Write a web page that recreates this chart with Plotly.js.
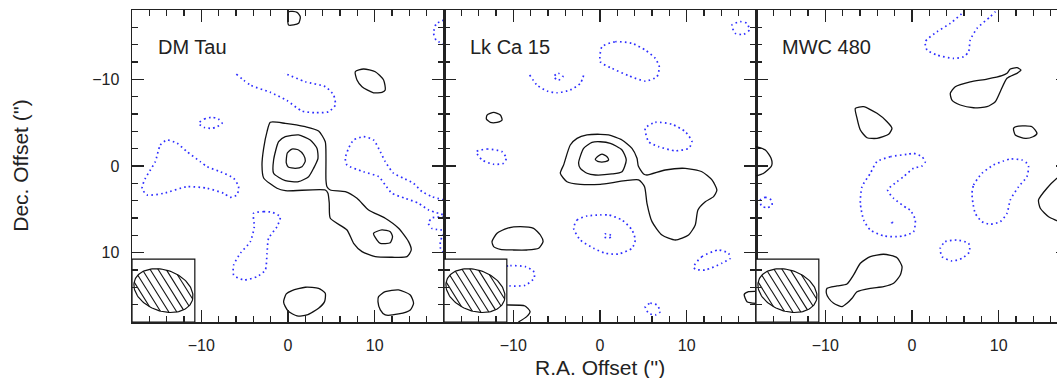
<!DOCTYPE html>
<html><head><meta charset="utf-8">
<script src="https://cdn.plot.ly/plotly-3.0.1.min.js"></script>
<style>html,body{margin:0;padding:0;overflow:hidden;background:#fff;width:1057px;height:378px}#chart{width:1068px;height:378px}</style>
</head><body><div id="chart"></div>
<script>
// ---- values (offsets in arcsec) ----
const sourceNames = ['DM Tau', 'Lk Ca 15', 'MWC 480'];
const tickValues = [-10, 0, 10];
const tickLabels = ['\u221210', '0', '10'];
const axisRange = [-18, 18];
const beamMajor = 7.04, beamMinor = 4.73, beamAngle = 20; // arcsec, arcsec, deg
const beamBoxSize = 7.25;

// DM Tau positive contours (closed)
const dmTauPos = [
  [-2.04,-5.04, -0.31,-4.92, 2.0,-4.53, 3.53,-4.04, 4.30,-2.80, 4.38,-0.89, 4.38,1.61, 4.50,2.39, 4.88,2.77, 6.61,2.96, 7.96,3.73, 9.30,5.07, 11.22,6.03, 12.76,7.19, 13.91,8.73, 14.22,9.69, 13.73,10.46, 12.0,10.53, 10.07,10.46, 8.54,9.88, 7.57,8.92, 6.81,7.38, 4.88,6.03, 4.76,4.27, 4.61,3.15, 4.30,2.77, -0.31,2.85, -1.27,2.57, -2.81,1.38, -3.0,-0.12, -2.81,-2.04, -2.42,-3.96],
  [-0.31,-3.38, 1.22,-3.58, 2.57,-3.0, 3.34,-2.04, 3.46,-0.89, 2.95,0.27, 2.38,1.23, 1.22,1.81, -0.31,1.70, -1.66,0.84, -1.66,-0.69, -1.08,-2.80],
  [-0.2,-0.69, -0.08,-1.5, 0.46,-1.96, 1.22,-1.85, 1.80,-1.27, 2.0,-0.58, 1.61,0.08, 0.84,0.27, 0.03,0.12, -0.2,-0.35],
  [9.87,7.76, 10.84,7.38, 11.80,7.58, 12.06,8.15, 11.80,8.85, 10.65,8.92, 10.27,8.54],
  [7.76,-10.88, 8.72,-11.19, 10.07,-10.88, 11.03,-9.92, 11.22,-8.77, 10.84,-8.50, 9.87,-8.45, 8.54,-9.15, 7.96,-9.92],
  [0.07,-17.8, 1.04,-17.73, 1.42,-17.22, 1.22,-16.46, 0.07,-16.26],
  [-0.2,14.76, 0.46,14.38, 2.0,13.99, 3.53,14.11, 4.30,14.68, 4.22,15.65, 3.53,16.41, 2.19,17.19, 1.04,17.30, 0.07,16.8, -0.31,16.23, -0.51,15.65],
  [10.45,15.07, 11.22,14.50, 12.76,14.30, 14.11,14.88, 14.49,15.84, 14.11,16.61, 12.76,17.07, 11.22,17.19, 10.65,16.61, 10.38,15.65]
];
const dmTauPosOpen = [];
// DM Tau negative contours
const dmTauNeg = [
  [-10.31,-4.92, -9.65,-5.42, -8.77,-5.62, -8.04,-5.42, -7.61,-4.92, -8.27,-4.50, -8.77,-4.35, -9.65,-4.44],
  [-15.31,-0.5, -14.73,-2.42, -13.96,-3.0, -12.80,-2.62, -11.65,-1.65, -10.12,-0.5, -9.34,0.08, -7.81,0.66, -6.27,1.42, -5.70,2.39, -5.88,3.34, -6.66,3.61, -7.43,3.15, -9.34,2.57, -11.65,2.39, -14.35,3.15, -16.26,3.34, -16.84,2.57, -16.46,1.42, -15.88,0.46],
  [-3.97,5.46, -2.81,5.27, -1.85,5.34, -0.89,5.85, -1.27,7.0, -2.24,8.34, -2.42,10.07, -2.62,12.0, -3.58,12.77, -5.12,13.15, -6.27,12.57, -6.27,11.42, -5.50,10.07, -4.35,8.73, -3.89,7.0]
];
const dmTauNegOpen = [
  [-5.96,-10.61, -4.35,-9.34, -2.04,-8.5, -0.12,-7.55, 1.61,-6.34, 3.15,-6.15, 4.68,-6.26, 5.46,-7.04, 5.26,-8.19, 4.30,-9.15, 2.0,-9.72, -0.12,-10.58, -0.43,-10.67],
  [18,3.92, 16.61,3.54, 15.46,2.96, 14.49,2.0, 13.33,1.42, 12.18,0.84, 11.22,-0.5, 10.65,-1.65, 9.87,-3.0, 8.72,-3.38, 7.57,-3.0, 6.99,-2.04, 6.61,-0.89, 6.80,-0.12, 8.72,0.66, 10.45,1.23, 11.22,2.19, 12.0,3.15, 13.53,3.73, 15.06,4.30, 16.22,5.07, 18,5.65],
  [18,5.9, 16.6,6.0, 16.2,6.6, 16.6,7.2, 18,7.4],
  [18,7.8, 17.6,8.6, 17.6,9.5, 18,10],
  [18,-16.84, 17.1,-16.4, 16.8,-15.34, 17.1,-14.5, 18,-14.07]
];

// Lk Ca 15
const lkCaPos = [
  [-4.20,-0.12, -3.43,-2.42, -2.65,-3.19, -1.50,-3.58, 0.03,-3.66, 0.99,-3.58, 2.54,-3.0, 3.69,-2.04, 4.27,-0.89, 4.42,0, 5.03,0.92, 5.42,1.04, 7.53,0.46, 9.84,0.27, 11.76,0.66, 12.92,1.61, 13.49,2.77, 13.10,3.54, 12.15,4.12, 11.30,5.07, 10.99,6.80, 10.22,7.96, 8.69,8.54, 7.15,7.96, 6.0,6.42, 5.42,4.30, 5.14,2.39, 4.45,1.61, 0.03,2.11, -2.27,2.11, -3.81,1.81, -4.58,0.84],
  [-2.47,-0.35, -1.89,-2.04, -0.92,-2.73, 0.03,-2.80, 1.19,-2.62, 2.54,-1.85, 3.03,-0.69, 2.54,0.66, 1.38,0.92, -0.54,1.04, -1.50,0.84, -2.27,0.27],
  [-0.54,-0.75, -0.2,-1.15, 0.23,-1.38, 0.81,-1.07, 0.99,-0.69, 0.61,-0.50, -0.16,-0.5],
  [-13.03,-5.88, -12.27,-6.19, -11.50,-5.88, -11.30,-5.31, -11.88,-5.04, -12.65,-5.04, -13.11,-5.42],
  [-12.46,8.73, -11.88,7.76, -10.73,7.19, -9.19,7.0, -7.66,7.19, -6.88,7.96, -6.57,8.73, -7.08,9.49, -8.42,9.69, -9.97,9.69, -11.50,9.61, -12.27,9.30]
];
const lkCaPosOpen = [
  [-13,16.0, -10.92,16.03, -8.65,16.15, -8.07,16.80, -8.46,17.38, -9.42,18.0],
  [18,14.46, 17.14,14.50, 16.64,14.82, 16.96,15.65, 18,15.84]
];
const lkCaNeg = [
  [-5.35,-10.3, -4.81,-10.7, -4.27,-10.3, -4.81,-9.9],
  [-14.27,-1.65, -13.03,-1.96, -11.30,-1.65, -10.81,-0.89, -11.12,-0.31, -12.27,-0.2, -13.61,-0.69],
  [0.23,-13.76, 1.76,-14.34, 3.69,-14.15, 5.22,-13.38, 6.38,-12.42, 6.84,-11.45, 6.57,-10.30, 5.22,-9.80, 3.30,-10.42, 1.38,-11.27, 0.03,-12.03],
  [15.22,-16.26, 16.18,-16.65, 16.96,-16.46, 17.23,-15.69, 16.56,-15.19, 15.61,-15.3],
  [5.22,-4.35, 6.38,-5.04, 8.30,-4.81, 9.84,-3.96, 10.61,-2.80, 10.22,-2.04, 8.69,-1.76, 6.76,-2.23, 5.61,-2.80],
  [-3.04,7.19, -2.65,6.23, -1.50,5.77, 0.03,5.65, 0.99,5.65, 2.54,6.23, 3.69,7.38, 4.07,8.54, 3.69,9.49, 2.15,10.15, 0.61,10.07, -0.74,9.49, -2.27,8.54],
  [0.6,7.85, 1.1,7.9, 1.4,8.15, 1.0,8.3, 0.5,8.2],
  [10.80,11.61, 11.76,10.46, 13.68,9.69, 14.83,10.07, 15.03,10.65, 14.07,11.22, 12.15,12.0, 11.0,11.91],
  [5.22,16.23, 5.80,15.84, 6.57,16.03, 6.95,16.80, 6.38,17.19, 5.61,16.99],
  [-11.5,11.76, -10.35,11.5, -8.62,11.61, -7.69,12.11, -7.58,12.92, -8.62,13.76, -10.35,13.84, -11.5,13.61]
];
const lkCaNegOpen = [
  [-8.12,-10.50, -7.27,-9.34, -6.11,-8.65, -4.96,-8.45, -3.43,-8.77, -2.27,-9.54, -1.81,-10.69]
];

// MWC 480
const mwcPos = [
  [-6.54,-6.65, -5.58,-6.84, -4.04,-6.08, -2.88,-5.11, -2.31,-4.35, -2.70,-3.66, -4.04,-3.19, -5.19,-3.26, -5.96,-4.15, -6.34,-5.50],
  [4.42,-8.39, 4.99,-9.15, 6.72,-9.72, 8.65,-10.03, 10.38,-10.42, 10.96,-10.69, 11.34,-11.19, 12.11,-11.34, 12.57,-11.07, 12.11,-10.69, 10.96,-10.12, 10.18,-8.57, 9.61,-7.42, 8.65,-6.84, 7.11,-6.72, 5.57,-7.04, 4.61,-7.61],
  [11.72,-4.35, 12.30,-4.61, 13.84,-4.53, 14.42,-3.77, 13.96,-3.38, 13.07,-3.19, 11.92,-3.58],
  [-9.80,14.11, -8.65,13.84, -7.50,13.61, -6.74,12.57, -5.96,11.22, -4.81,10.46, -3.28,10.18, -1.73,10.58, -1.15,11.61, -1.35,12.57, -2.12,13.53, -3.28,13.92, -4.81,14.11, -6.34,14.50, -6.92,15.26, -7.50,15.84, -8.07,16.23, -9.04,15.84, -9.61,15.26, -9.88,14.68]
];
const mwcPosOpen = [
  [-18,-2.23, -16.92,-1.85, -16.26,-0.89, -16.15,-0.23, -16.26,0.08, -17.12,0.84, -18,1.15],
  [18,0.5, 16.72,1.42, 15.57,2.57, 14.60,3.92, 14.80,4.88, 15.76,5.85, 16.72,6.31, 18,6.9]
];
const mwcNeg = [
  [-4.04,-0.5, -2.50,-1.07, -0.58,-1.35, 0.18,-1.46, 1.15,-1.07, 1.53,-0.5, 1.15,0, 0.18,0.27, -0.97,1.23, -1.73,1.81, -2.81,2.77, -2.12,3.73, -0.58,4.88, -0.2,5.07, 0.38,6.23, 0.18,7.58, -0.97,8.07, -1.73,8.15, -3.28,8.07, -4.81,7.38, -5.58,6.23, -5.96,4.30, -5.77,2.39, -4.81,0.84],
  [-2.35,6.45, -2.27,6.45, -2.27,6.53, -2.35,6.53],
  [6.92,3.15, 7.11,2.19, 8.07,0.84, 9.41,-0.12, 10.57,-0.58, 11.34,-0.81, 12.69,-0.69, 13.26,-0.31, 13.45,0.08, 13.26,1.23, 12.30,2.39, 11.34,3.92, 10.96,5.46, 10.18,6.42, 9.03,6.72, 8.07,6.42, 7.30,5.46, 7.03,4.30],
  [3.26,9.49, 3.84,8.73, 5.19,8.54, 6.53,8.92, 6.64,9.88, 5.77,10.65, 4.61,10.96, 3.46,10.46],
  [-17.50,3.92, -16.92,3.61, -16.26,3.92, -16.15,4.50, -16.72,4.81, -17.38,4.61]
];
const mwcNegOpen = [
  [6.0,-18, 5.95,-17.80, 4.42,-16.46, 2.88,-15.49, 1.53,-14.34, 1.73,-13.38, 2.88,-12.80, 4.80,-12.42, 5.95,-12.61, 6.53,-13.18, 6.72,-14.53, 7.50,-15.88, 9.03,-17.22, 9.61,-17.80, 9.8,-18]
];

// ---- drawing ----
const panels = [
  {pos: dmTauPos, posOpen: dmTauPosOpen, neg: dmTauNeg, negOpen: dmTauNegOpen},
  {pos: lkCaPos, posOpen: lkCaPosOpen, neg: lkCaNeg, negOpen: lkCaNegOpen},
  {pos: mwcPos, posOpen: mwcPosOpen, neg: mwcNeg, negOpen: mwcNegOpen}
];
const POS_LINE = {color: '#111', width: 1.3, shape: 'spline', smoothing: 0.6};
const NEG_LINE = {color: 'rgb(45,45,255)', width: 1.7, dash: '1.6px,3.2px', shape: 'spline', smoothing: 0.6};

function toXY(flat, closed) {
  const x = [], y = [];
  for (let i = 0; i < flat.length; i += 2) { x.push(flat[i]); y.push(flat[i + 1]); }
  if (closed) { x.push(flat[0]); y.push(flat[1]); }
  return {x, y};
}
const traces = [];
panels.forEach((p, i) => {
  const xa = 'x' + (i ? i + 1 : ''), ya = 'y' + (i ? i + 1 : '');
  const add = (list, closed, line) => list.forEach(path => {
    const d = toXY(path, closed);
    traces.push({type: 'scatter', mode: 'lines', x: d.x, y: d.y, xaxis: xa, yaxis: ya, line: line, hoverinfo: 'skip'});
  });
  add(p.neg, true, NEG_LINE); add(p.negOpen, false, NEG_LINE);
  add(p.pos, true, POS_LINE); add(p.posOpen, false, POS_LINE);

  // beam box
  const x0 = axisRange[0], y1 = axisRange[1];
  const bx = [x0, x0 + beamBoxSize, x0 + beamBoxSize, x0, x0];
  const by = [y1, y1, y1 - beamBoxSize, y1 - beamBoxSize, y1];
  traces.push({type: 'scatter', mode: 'lines', x: bx, y: by, xaxis: xa, yaxis: ya, fill: 'toself', fillcolor: '#fff', line: {color: '#111', width: 1.2}, hoverinfo: 'skip'});
  // beam ellipse
  const cx = x0 + beamBoxSize / 2, cy = y1 - beamBoxSize / 2;
  const a = beamMajor / 2, b = beamMinor / 2, th = beamAngle * Math.PI / 180;
  const ex = [], ey = [];
  for (let k = 0; k <= 120; k++) {
    const t = 2 * Math.PI * k / 120;
    ex.push(cx + a * Math.cos(t) * Math.cos(th) - b * Math.sin(t) * Math.sin(th));
    ey.push(cy + a * Math.cos(t) * Math.sin(th) + b * Math.sin(t) * Math.cos(th));
  }
  traces.push({type: 'scatter', mode: 'lines', x: ex, y: ey, xaxis: xa, yaxis: ya, line: {color: '#111', width: 1.2}, hoverinfo: 'skip'});
  // hatching
  const hAng = 58 * Math.PI / 180, ux = Math.cos(hAng), uy = Math.sin(hAng);
  const nx = -uy, ny = ux, spacing = 0.78;
  const hx = [], hy = [];
  const e1 = [Math.cos(th), Math.sin(th)], e2 = [-Math.sin(th), Math.cos(th)];
  for (let d = -6 * spacing; d <= 6 * spacing + 1e-9; d += spacing) {
    const px = d * nx, py = d * ny;
    const P1 = px * e1[0] + py * e1[1], P2 = px * e2[0] + py * e2[1];
    const U1 = ux * e1[0] + uy * e1[1], U2 = ux * e2[0] + uy * e2[1];
    const A = U1 * U1 / (a * a) + U2 * U2 / (b * b);
    const B = 2 * (P1 * U1 / (a * a) + P2 * U2 / (b * b));
    const C = P1 * P1 / (a * a) + P2 * P2 / (b * b) - 1;
    const disc = B * B - 4 * A * C;
    if (disc <= 0) continue;
    const s1 = (-B - Math.sqrt(disc)) / (2 * A), s2 = (-B + Math.sqrt(disc)) / (2 * A);
    hx.push(cx + px + s1 * ux, cx + px + s2 * ux, null);
    hy.push(cy + py + s1 * uy, cy + py + s2 * uy, null);
  }
  traces.push({type: 'scatter', mode: 'lines', x: hx, y: hy, xaxis: xa, yaxis: ya, line: {color: '#111', width: 1.1}, hoverinfo: 'skip'});
});

const FONT = 'Liberation Sans, Arial, sans-serif';
function xAxis(i) {
  return {
    domain: [i / 3, (i + 1) / 3], range: axisRange, anchor: 'y' + (i ? i + 1 : ''),
    showline: true, linecolor: '#222', linewidth: 1.5, mirror: 'ticks', zeroline: false, showgrid: false,
    tickmode: 'array', tickvals: tickValues, ticktext: tickLabels,
    ticks: 'inside', ticklen: 12, tickwidth: 1.2, tickcolor: '#222',
    minor: {ticks: 'inside', tickmode: 'linear', tick0: 0, dtick: 2, ticklen: 6, tickwidth: 1.1, tickcolor: '#222', showgrid: false},
    tickfont: {family: FONT, size: 16, color: '#222'}, ticklabelstandoff: 8, fixedrange: true
  };
}
function yAxis(i) {
  return {
    domain: [0, 1], range: [axisRange[1], axisRange[0]], anchor: 'x' + (i ? i + 1 : ''),
    showline: true, linecolor: '#222', linewidth: 1.5, mirror: 'ticks', zeroline: false, showgrid: false,
    tickmode: 'array', tickvals: tickValues, ticktext: tickLabels, showticklabels: i === 0,
    ticks: 'inside', ticklen: 12, tickwidth: 1.2, tickcolor: '#222',
    minor: {ticks: 'inside', tickmode: 'linear', tick0: 0, dtick: 2, ticklen: 6, tickwidth: 1.1, tickcolor: '#222', showgrid: false},
    tickfont: {family: FONT, size: 16, color: '#222'}, ticklabelstandoff: 8, fixedrange: true
  };
}
const annotations = sourceNames.map((name, i) => ({
  text: name, xref: 'x' + (i ? i + 1 : ''), yref: 'y' + (i ? i + 1 : ''), x: -15.2, y: -13.7,
  xanchor: 'left', yanchor: 'middle', showarrow: false, font: {family: FONT, size: 20, color: '#222'}
}));
annotations.push({text: 'Dec. Offset (\'\')', xref: 'paper', yref: 'paper', x: -0.12, y: 0.503, textangle: -90,
  xanchor: 'center', yanchor: 'middle', showarrow: false, font: {family: FONT, size: 21, color: '#222'}});
annotations.push({text: 'R.A. Offset (\'\')', xref: 'paper', yref: 'paper', x: 0.5, y: -0.147,
  xanchor: 'center', yanchor: 'middle', showarrow: false, font: {family: FONT, size: 21, color: '#222'}});

const layout = {
  width: 1068, height: 378, margin: {l: 132, r: 0, t: 10, b: 56},
  paper_bgcolor: '#fff', plot_bgcolor: '#fff', showlegend: false,
  xaxis: xAxis(0), xaxis2: xAxis(1), xaxis3: xAxis(2),
  yaxis: yAxis(0), yaxis2: yAxis(1), yaxis3: yAxis(2),
  annotations: annotations
};
Plotly.newPlot('chart', traces, layout, {staticPlot: true, displayModeBar: false});
</script></body></html>
